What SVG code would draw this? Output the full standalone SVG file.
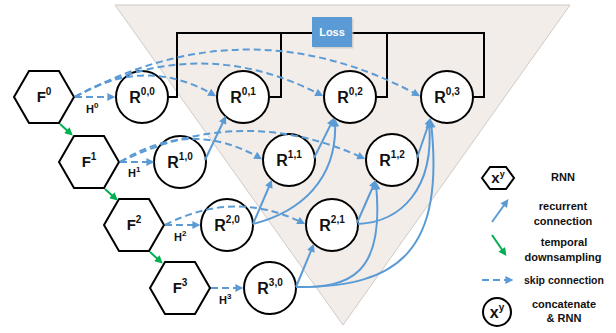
<svg xmlns="http://www.w3.org/2000/svg" width="616" height="333" viewBox="0 0 616 333">
  <defs>
    <marker id="ab" viewBox="0 0 10 10" refX="7" refY="5" markerWidth="9" markerHeight="8" markerUnits="userSpaceOnUse" orient="auto">
      <path d="M0,0 L10,5 L0,10 z" fill="#5b9bd5"/>
    </marker>
    <marker id="ag" viewBox="0 0 10 10" refX="7" refY="5" markerWidth="9" markerHeight="8" markerUnits="userSpaceOnUse" orient="auto">
      <path d="M0,0 L10,5 L0,10 z" fill="#00b050"/>
    </marker>
  </defs>
  <style>
    text { font-family: "Liberation Sans", Arial, sans-serif; font-weight: bold; fill: #111; }
    .hex, .node { fill: #fff; stroke: #000; stroke-width: 2; }
    .tree { fill: none; stroke: #000; stroke-width: 2; }
    .rec { fill: none; stroke: #5b9bd5; stroke-width: 2; marker-end: url(#ab); }
    .skip { fill: none; stroke: #5b9bd5; stroke-width: 2; stroke-dasharray: 7 4; marker-end: url(#ab); }
    .down { fill: none; stroke: #00b050; stroke-width: 2; marker-end: url(#ag); }
    .rl { font-size: 16px; text-anchor: middle; }
    .fl { font-size: 15px; text-anchor: middle; }
    .hl { font-size: 11px; }
    .leg { font-size: 11px; text-anchor: middle; }
  </style>

  <!-- pyramid background -->
  <polygon points="115,5 570,5 343,325" fill="#f3ede9" stroke="#cfcac6" stroke-width="1"/>

  <!-- loss aggregation lines -->
  <g id="loss-tree">
    <path class="tree" d="M168,97 H177 V33 H484 V97 H473"/>
    <path class="tree" d="M281,33 V97 H269"/>
    <path class="tree" d="M387,33 V97 H376"/>
  </g>
  <g id="loss">
    <rect x="313.5" y="18.5" width="40" height="30" fill="#c9c4c0" opacity="0.7"/>
    <rect x="312" y="17" width="40" height="30" fill="#5b9bd5"/>
    <text x="332" y="36" font-size="11" text-anchor="middle" style="fill:#fff">Loss</text>
  </g>

  <!-- feature hexagons -->
  <g id="F0"><polygon class="hex" points="14,97 29,71 59,71 74,97 59,123 29,123"/>
    <text class="fl" x="44" y="102">F<tspan font-size="10" dy="-7">0</tspan></text></g>
  <g id="F1"><polygon class="hex" points="59,162 74,136 104,136 119,162 104,188 74,188"/>
    <text class="fl" x="89" y="167">F<tspan font-size="10" dy="-7">1</tspan></text></g>
  <g id="F2"><polygon class="hex" points="104,225 119,199 149,199 164,225 149,251 119,251"/>
    <text class="fl" x="134" y="230">F<tspan font-size="10" dy="-7">2</tspan></text></g>
  <g id="F3"><polygon class="hex" points="150,288 165,262 195,262 210,288 195,314 165,314"/>
    <text class="fl" x="180" y="293">F<tspan font-size="10" dy="-7">3</tspan></text></g>

  <!-- RNN nodes -->
  <g id="R00"><circle class="node" cx="142" cy="97" r="26"/>
    <text class="rl" x="142" y="103">R<tspan font-size="10" dy="-8">0,0</tspan></text></g>
  <g id="R01"><circle class="node" cx="243" cy="97" r="26"/>
    <text class="rl" x="243" y="103">R<tspan font-size="10" dy="-8">0,1</tspan></text></g>
  <g id="R02"><circle class="node" cx="350" cy="97" r="26"/>
    <text class="rl" x="350" y="103">R<tspan font-size="10" dy="-8">0,2</tspan></text></g>
  <g id="R03"><circle class="node" cx="447" cy="97" r="26"/>
    <text class="rl" x="447" y="103">R<tspan font-size="10" dy="-8">0,3</tspan></text></g>
  <g id="R10"><circle class="node" cx="180" cy="162" r="26"/>
    <text class="rl" x="180" y="168">R<tspan font-size="10" dy="-8">1,0</tspan></text></g>
  <g id="R11"><circle class="node" cx="289" cy="160" r="26"/>
    <text class="rl" x="289" y="166">R<tspan font-size="10" dy="-8">1,1</tspan></text></g>
  <g id="R12"><circle class="node" cx="392" cy="160" r="26"/>
    <text class="rl" x="392" y="166">R<tspan font-size="10" dy="-8">1,2</tspan></text></g>
  <g id="R20"><circle class="node" cx="227" cy="225" r="26"/>
    <text class="rl" x="227" y="231">R<tspan font-size="10" dy="-8">2,0</tspan></text></g>
  <g id="R21"><circle class="node" cx="332" cy="225" r="26"/>
    <text class="rl" x="332" y="231">R<tspan font-size="10" dy="-8">2,1</tspan></text></g>
  <g id="R30"><circle class="node" cx="270" cy="288" r="26"/>
    <text class="rl" x="270" y="294">R<tspan font-size="10" dy="-8">3,0</tspan></text></g>

  <!-- hidden-state labels -->
  <text class="hl" x="86" y="113">H<tspan font-size="8" dy="-5">0</tspan></text>
  <text class="hl" x="128" y="177">H<tspan font-size="8" dy="-5">1</tspan></text>
  <text class="hl" x="174" y="241">H<tspan font-size="8" dy="-5">2</tspan></text>
  <text class="hl" x="219" y="304">H<tspan font-size="8" dy="-5">3</tspan></text>

  <!-- connectors -->
  <g id="connectors">
    <!-- temporal downsampling -->
    <path class="down" d="M60,124 L71,134"/>
    <path class="down" d="M105,189 L116,199"/>
    <path class="down" d="M150,252 L161,262"/>
    <!-- skip connections -->
    <path class="skip" d="M75,97 L113,97"/>
    <path class="skip" d="M75,97 Q145,55 214,95"/>
    <path class="skip" d="M75,97 Q198,31 321,95"/>
    <path class="skip" d="M75,97 Q247,3 418,95"/>
    <path class="skip" d="M120,162 L152,162"/>
    <path class="skip" d="M120,162 Q190,118 260,158"/>
    <path class="skip" d="M120,162 Q242,102 363,158"/>
    <path class="skip" d="M165,225 L198,225"/>
    <path class="skip" d="M165,225 Q235,189 303,223"/>
    <path class="skip" d="M211,288 L241,288"/>
    <!-- recurrent connections -->
    <path class="rec" d="M205,160 L225,118"/>
    <path class="rec" d="M253,224 L271,182"/>
    <path class="rec" d="M296,287 L313,246"/>
    <path class="rec" d="M314,158 L333,120"/>
    <path class="rec" d="M357,223 L375,182"/>
    <path class="rec" d="M417,158 L430,120"/>
    <path class="rec" d="M253,224 C300,212 338,180 335,121"/>
    <path class="rec" d="M296,287 C350,288 385,275 376,184"/>
    <path class="rec" d="M296,287 C400,288 445,250 431,122"/>
    <path class="rec" d="M358,224 C400,222 435,190 429,122"/>
  </g>

  <!-- legend -->
  <g id="legend">
    <g id="leg-rnn">
      <polygon class="hex" points="482,178 490,167 506,167 514,178 506,189 490,189"/>
      <text x="498" y="183" font-size="15" text-anchor="middle">x<tspan font-size="9" dy="-6">y</tspan></text>
      <text class="leg" x="563" y="181">RNN</text>
    </g>
    <g id="leg-rec">
      <path class="rec" d="M492,222 L507,201"/>
      <text class="leg" x="563" y="210">recurrent</text>
      <text class="leg" x="563" y="225">connection</text>
    </g>
    <g id="leg-down">
      <path class="down" d="M492,235 L505,254"/>
      <text class="leg" x="564" y="246">temporal</text>
      <text class="leg" x="563" y="261">downsampling</text>
    </g>
    <g id="leg-skip">
      <path class="skip" d="M482,280 L511,280"/>
      <text x="524" y="284" font-size="10.5">skip connection</text>
    </g>
    <g id="leg-cat">
      <circle class="node" cx="497" cy="312" r="14"/>
      <text x="497" y="318" font-size="16" text-anchor="middle">x<tspan font-size="10" dy="-7">y</tspan></text>
      <text class="leg" x="564" y="308">concatenate</text>
      <text class="leg" x="564" y="322">&amp; RNN</text>
    </g>
  </g>
</svg>
